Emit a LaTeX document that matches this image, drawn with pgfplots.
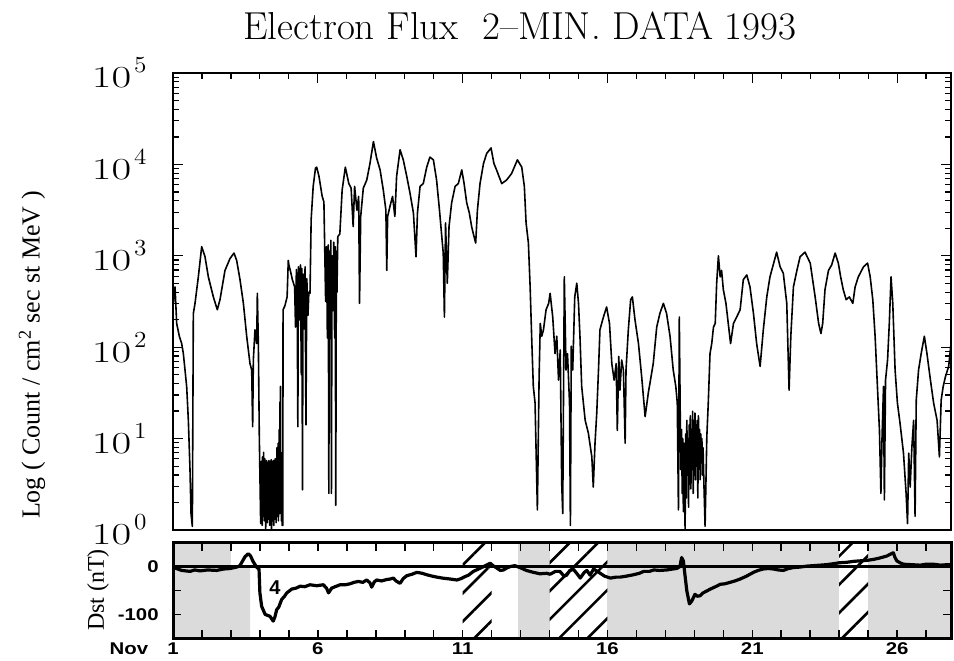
\documentclass[border=0pt]{standalone}
\usepackage{fontspec}
\usepackage{graphicx}
\usepackage{pgfplots}
\pgfplotsset{compat=1.18}
\usetikzlibrary{patterns.meta}
\newfontfamily\arialf{Liberation Sans}
\newfontfamily\timesf{Liberation Serif}
\newcommand{\tlab}[1]{\scalebox{1.4}[1]{\fontsize{15.3}{16}\selectfont 10}\kern1.5pt\raisebox{7.5pt}{\scalebox{1.1}[1]{\fontsize{11.5}{12}\selectfont #1}}}
\newcommand{\dlab}[1]{\scalebox{1.2}[1]{\fontsize{8.5}{10}\selectfont\arialf\bfseries #1}}

\pgfplotstableread{
d l
1.000 2.45
1.070 2.66
1.127 2.26
1.219 2.12
1.300 2.04
1.357 1.93
1.415 1.75
1.472 1.57
1.530 1.20
1.587 0.66
1.622 0.18
1.668 0.04
1.702 2.37
1.760 2.48
1.875 2.77
1.990 3.10
2.105 2.99
2.220 2.77
2.393 2.55
2.530 2.41
2.622 2.52
2.795 2.84
2.968 2.97
3.106 3.03
3.198 2.95
3.313 2.74
3.430 2.48
3.544 2.12
3.659 1.82
3.717 1.75
3.750 1.13
3.774 1.86
3.830 2.19
3.889 2.04
3.912 2.59
3.947 2.04
3.980 1.02
4.027 0.07
4.03 0.60
4.04 0.10
4.05 0.75
4.06 0.20
4.07 0.70
4.08 0.05
4.09 0.80
4.10 0.25
4.11 0.72
4.12 0.15
4.13 0.85
4.14 0.30
4.15 0.70
4.16 0.10
4.17 0.78
4.18 0.22
4.19 0.68
4.20 0.00
4.21 0.75
4.22 0.30
4.23 0.76
4.24 0.18
4.25 0.70
4.26 0.08
4.27 0.74
4.28 0.25
4.29 0.72
4.30 0.12
4.31 0.76
4.32 0.28
4.33 0.70
4.34 0.05
4.35 0.75
4.36 0.20
4.37 0.73
4.38 0.15
4.39 0.77
4.40 0.00
4.41 0.70
4.42 0.25
4.43 0.75
4.44 0.10
4.45 0.72
4.46 0.30
4.47 0.76
4.48 0.05
4.49 0.70
4.50 0.20
4.51 0.74
4.52 0.12
4.53 0.78
4.54 0.28
4.55 0.70
4.56 0.08
4.57 0.75
4.58 0.22
4.59 0.90
4.60 0.15
4.61 0.76
4.62 0.30
4.63 0.95
4.64 0.10
4.65 0.80
4.66 0.25
4.67 1.10
4.68 0.18
4.69 1.40
4.70 0.30
4.71 1.57
4.72 0.20
4.73 0.85
4.74 0.10
4.75 0.70
4.77 0.05
4.79 0.05
4.80 2.41
4.86 2.45
4.94 2.55
4.98 2.95
5.00 2.90
5.05 2.84
5.12 2.74
5.20 2.66
5.23 2.22
5.26 2.85
5.29 2.40
5.31 1.13
5.33 2.88
5.37 2.30
5.40 2.90
5.43 1.70
5.45 2.86
5.47 0.44
5.49 2.80
5.53 2.20
5.56 2.88
5.59 1.15
5.62 2.75
5.66 2.35
5.69 2.60
5.73 2.59
5.77 3.40
5.84 3.76
5.92 3.96
5.96 3.97
6.04 3.87
6.15 3.65
6.21 3.59
6.24 3.05
6.27 2.50
6.30 3.10
6.33 2.10
6.36 3.12
6.38 0.40
6.40 3.05
6.43 2.20
6.45 3.17
6.47 0.40
6.49 3.00
6.52 2.40
6.55 3.15
6.58 2.10
6.60 3.10
6.62 0.27
6.64 3.05
6.66 2.60
6.69 3.21
6.76 3.24
6.84 3.72
6.95 3.97
7.07 3.79
7.15 3.74
7.22 3.32
7.27 3.76
7.35 3.50
7.41 3.65
7.44 2.48
7.48 3.43
7.57 3.74
7.69 3.83
7.80 4.01
7.92 4.25
8.03 4.07
8.15 3.94
8.26 3.72
8.35 3.50
8.38 2.84
8.41 3.43
8.49 3.54
8.58 3.65
8.66 3.43
8.72 3.87
8.84 4.16
8.95 4.05
9.07 3.87
9.18 3.69
9.30 3.47
9.39 2.99
9.44 3.47
9.53 3.76
9.64 3.79
9.76 3.97
9.87 4.08
9.99 4.05
10.10 3.83
10.20 3.50
10.28 3.21
10.33 3.03
10.37 2.33
10.41 3.36
10.47 2.70
10.53 3.32
10.62 3.58
10.74 3.76
10.85 3.79
10.97 3.94
11.05 3.79
11.14 3.58
11.23 3.47
11.31 3.32
11.37 3.24
11.45 3.14
11.51 3.50
11.60 3.79
11.72 4.01
11.83 4.12
11.98 4.18
12.08 4.01
12.17 3.94
12.35 3.79
12.52 3.83
12.69 3.90
12.89 4.05
13.04 3.97
13.13 3.76
13.19 3.36
13.27 3.14
13.33 2.66
13.39 2.04
13.44 1.57
13.50 1.39
13.58 0.22
13.64 1.68
13.68 2.26
13.73 2.12
13.79 2.19
13.88 2.41
13.97 2.48
14.02 2.59
14.11 2.33
14.19 1.93
14.25 2.12
14.31 1.64
14.37 1.97
14.42 0.51
14.455 0.18
14.51 2.77
14.57 1.75
14.62 1.93
14.69 1.39
14.72 0.05
14.75 2.01
14.80 1.75
14.87 2.55
14.94 2.70
15.00 2.48
15.05 2.12
15.11 1.57
15.23 1.20
15.34 1.06
15.46 0.80
15.51 0.47
15.57 0.95
15.63 1.28
15.69 1.75
15.74 2.19
15.86 2.33
15.97 2.44
16.07 2.26
16.15 1.82
16.23 1.64
16.30 1.82
16.34 1.09
16.39 1.90
16.43 1.53
16.49 1.86
16.55 1.75
16.61 0.95
16.64 1.75
16.72 2.19
16.80 2.52
16.86 2.55
16.95 2.30
17.07 2.04
17.18 1.68
17.30 1.24
17.41 1.50
17.58 1.82
17.70 2.22
17.81 2.37
17.93 2.48
18.04 2.37
18.16 2.12
18.27 1.75
18.36 1.57
18.41 1.39
18.45 0.22
18.48 2.33
18.53 0.66
18.56 1.10
18.58 0.40
18.60 1.00
18.62 0.20
18.64 0.95
18.66 0.50
18.68 0.00
18.70 1.05
18.72 0.35
18.74 1.20
18.76 0.60
18.78 1.00
18.80 0.25
18.82 1.15
18.84 0.50
18.86 1.25
18.88 0.45
18.90 1.10
18.92 0.70
18.94 1.30
18.96 0.40
18.98 1.20
19.00 0.60
19.02 1.28
19.04 0.55
19.06 1.15
19.08 0.70
19.10 1.20
19.12 0.35
19.14 1.25
19.16 0.80
19.18 1.10
19.20 0.55
19.22 1.05
19.24 0.75
19.26 1.00
19.28 0.60
19.30 0.90
19.33 0.50
19.37 0.04
19.43 1.02
19.48 1.39
19.54 1.93
19.60 2.04
19.66 2.22
19.72 2.26
19.77 2.70
19.83 3.00
19.89 2.77
19.94 2.84
20.00 2.63
20.09 2.48
20.17 2.26
20.25 2.04
20.35 2.26
20.46 2.33
20.58 2.41
20.69 2.74
20.81 2.79
20.92 2.66
21.04 2.37
21.15 2.04
21.27 1.79
21.38 2.19
21.50 2.55
21.61 2.77
21.73 2.91
21.84 3.04
21.96 2.88
22.07 2.81
22.19 2.48
22.27 1.53
22.33 2.12
22.42 2.66
22.54 2.84
22.65 2.99
22.82 3.04
23.00 2.92
23.17 2.55
23.29 2.26
23.37 2.15
23.43 2.26
23.51 2.63
23.63 2.84
23.74 2.90
23.86 3.03
23.97 2.92
24.05 2.77
24.14 2.63
24.24 2.52
24.35 2.55
24.47 2.48
24.55 2.66
24.66 2.77
24.84 2.88
24.98 2.92
25.07 2.77
25.16 2.52
25.24 2.12
25.32 1.57
25.39 1.09
25.44 0.40
25.48 1.02
25.53 1.57
25.56 0.33
25.60 1.64
25.67 1.86
25.73 2.26
25.79 2.77
25.85 2.48
25.93 1.75
26.01 1.39
26.10 1.17
26.22 0.84
26.31 0.40
26.36 0.07
26.40 0.84
26.45 0.47
26.51 0.91
26.57 1.20
26.62 0.15
26.66 1.42
26.74 1.75
26.83 1.93
26.94 2.12
27.03 1.93
27.15 1.64
27.26 1.39
27.38 1.20
27.46 0.80
27.52 1.42
27.59 1.57
27.67 1.68
27.78 1.79
27.86 2.04
}\fluxtable

\pgfplotstableread{
d dst
1.00 -4
1.07 -3
1.30 -8
1.59 -10
1.75 -7
1.93 -9
2.20 -7
2.51 -8
2.75 -5
2.97 -4
3.20 -1
3.31 2
3.49 21
3.60 27
3.68 22
3.77 10
3.90 -2
3.97 -5
4.00 -55
4.06 -83
4.18 -100
4.35 -104
4.46 -114
4.52 -105
4.58 -90
4.65 -85
4.75 -69
4.85 -62
4.93 -55
5.10 -47
5.25 -45
5.39 -41
5.55 -42
5.73 -38
5.96 -40
6.19 -38
6.30 -45
6.37 -55
6.48 -45
6.60 -42
6.77 -38
6.95 -38
7.11 -36
7.25 -33
7.40 -31
7.55 -33
7.69 -28
7.80 -34
7.86 -43
7.95 -32
8.03 -28
8.20 -30
8.38 -27
8.50 -26
8.61 -24
8.70 -30
8.84 -35
8.95 -25
9.07 -19
9.25 -16
9.42 -12
9.60 -14
9.76 -17
9.95 -20
10.11 -22
10.30 -24
10.57 -26
10.80 -28
10.95 -25
11.08 -21
11.20 -18
11.37 -10
11.55 -5
11.72 0
11.85 4
11.95 7
12.05 2
12.18 -3
12.30 -8
12.41 -7
12.52 -3
12.64 0
12.80 2
12.98 -2
13.20 -8
13.44 -12
13.67 -15
13.90 -14
14.02 -16
14.20 -10
14.36 -10
14.50 -20
14.59 -18
14.70 -8
14.83 -6
14.95 -15
15.06 -24
15.20 -12
15.29 -8
15.40 -18
15.52 -5
15.65 -10
15.75 -14
15.90 -20
16.10 -24
16.30 -22
16.44 -22
16.65 -20
16.90 -17
17.10 -14
17.25 -10
17.45 -10
17.60 -7
17.80 -8
18.05 -7
18.25 -5
18.39 -4
18.50 0
18.56 19
18.62 12
18.68 -20
18.74 -51
18.83 -78
18.91 -72
19.02 -58
19.10 -62
19.20 -61
19.30 -55
19.43 -51
19.55 -47
19.66 -44
19.80 -40
19.89 -37
20.05 -36
20.23 -33
20.40 -30
20.58 -26
20.80 -20
21.04 -12
21.20 -8
21.38 -5
21.55 -4
21.73 -5
21.90 -7
22.07 -8
22.25 -4
22.42 -2
22.65 -1
22.88 1
23.10 2
23.34 3
23.55 4
23.80 6
24.00 8
24.26 9
24.50 11
24.72 12
24.95 13
25.18 15
25.40 18
25.64 22
25.80 27
25.87 29
25.92 20
25.99 12
26.10 8
26.22 5
26.50 4
26.80 3
27.00 5
27.26 5
27.50 3
27.72 4
27.86 4
}\dsttable

\begin{document}
\begin{tikzpicture}
\useasboundingbox (0,0) rectangle (477pt,330pt);
\node[anchor=base, font=\fontsize{19.5}{22}\selectfont] at (260pt,310pt) {Electron Flux\ \ 2–MIN. DATA 1993};
\node[rotate=90, font=\timesf\fontsize{13}{15}\selectfont] at (16pt,152.5pt) {Log ( Count / cm\textsuperscript{2} sec st MeV )};
\node[rotate=90, font=\timesf\fontsize{12}{14}\selectfont] at (49pt,35pt) {Dst (nT)};

\begin{axis}[
  at={(86.5pt,65pt)}, anchor=south west,
  scale only axis, width=389pt, height=228.5pt,
  xmin=1, xmax=27.86, ymin=0, ymax=5,
  xtick={1,6,11,16,21,26},
  minor xtick={2,3,4,5,7,8,9,10,12,13,14,15,17,18,19,20,22,23,24,25,27},
  xticklabels={},
  xtick pos=right,
  ytick={0,1,2,3,4,5},
  yticklabels={\tlab{0},\tlab{1},\tlab{2},\tlab{3},\tlab{4},\tlab{5}},
  minor ytick={0.301,0.477,0.602,0.699,0.778,0.845,0.903,0.954,
    1.301,1.477,1.602,1.699,1.778,1.845,1.903,1.954,
    2.301,2.477,2.602,2.699,2.778,2.845,2.903,2.954,
    3.301,3.477,3.602,3.699,3.778,3.845,3.903,3.954,
    4.301,4.477,4.602,4.699,4.778,4.845,4.903,4.954},
  tick align=inside,
  major tick length=5pt, minor tick length=2.8pt,
  yticklabel style={anchor=east, inner sep=0pt, xshift=-13pt},
  axis line style={line width=0.8pt},
  tick style={line width=0.6pt, black},
]
\addplot[black, line width=0.8pt, line join=round] table[x=d, y=l] {\fluxtable};
\end{axis}

\begin{axis}[
  at={(86.5pt,10.85pt)}, anchor=south west,
  scale only axis, width=389pt, height=47.8pt,
  xmin=1, xmax=27.86, ymin=-150, ymax=50,
  xtick={1,...,27},
  xticklabels={\dlab{\llap{Nov\hspace{8pt}}1},,,,,\dlab{6},,,,,\dlab{11},,,,,\dlab{16},,,,,\dlab{21},,,,,\dlab{26},},
  ytick={-150,-100,-50,0,50},
  yticklabels={,\dlab{-100},,\dlab{0},},
  tick align=inside,
  major tick length=4pt,
  xtick pos=both, ytick pos=both,
  axis line style={line width=1.5pt},
  tick style={line width=0.8pt, black},
  xticklabel style={anchor=north, inner sep=0pt, yshift=-2pt},
  yticklabel style={anchor=east, inner sep=0pt, xshift=-7pt},
  axis on top,
]
\addplot[draw=none, fill=black!14] coordinates {(1,-150) (3.66,-150) (3.66,0) (3.0,0) (3.0,50) (1,50)};
\addplot[draw=none, fill=black!14] coordinates {(12.9,-150) (14,-150) (14,50) (12.9,50)};
\addplot[draw=none, fill=black!14] coordinates {(16,-150) (24,-150) (24,50) (16,50)};
\addplot[draw=none, fill=black!14] coordinates {(25,-150) (27.86,-150) (27.86,50) (25,50)};
\addplot[draw=none, pattern={Lines[angle=45,distance=10pt,line width=1.3pt]}] coordinates {(11,-150) (12,-150) (12,50) (11,50)};
\addplot[draw=none, pattern={Lines[angle=45,distance=10pt,line width=1.3pt]}] coordinates {(14,-150) (16,-150) (16,50) (14,50)};
\addplot[draw=none, pattern={Lines[angle=45,distance=10pt,line width=1.3pt]}] coordinates {(24,-150) (25,-150) (25,50) (24,50)};
\addplot[black, line width=1.2pt] coordinates {(1,0) (27.86,0)};
\addplot[black, line width=1.6pt, line join=round] table[x=d, y=dst] {\dsttable};
\node[font=\arialf\bfseries\fontsize{10}{12}\selectfont] at (axis cs:4.52,-44) {4};
\end{axis}
\end{tikzpicture}
\end{document}
